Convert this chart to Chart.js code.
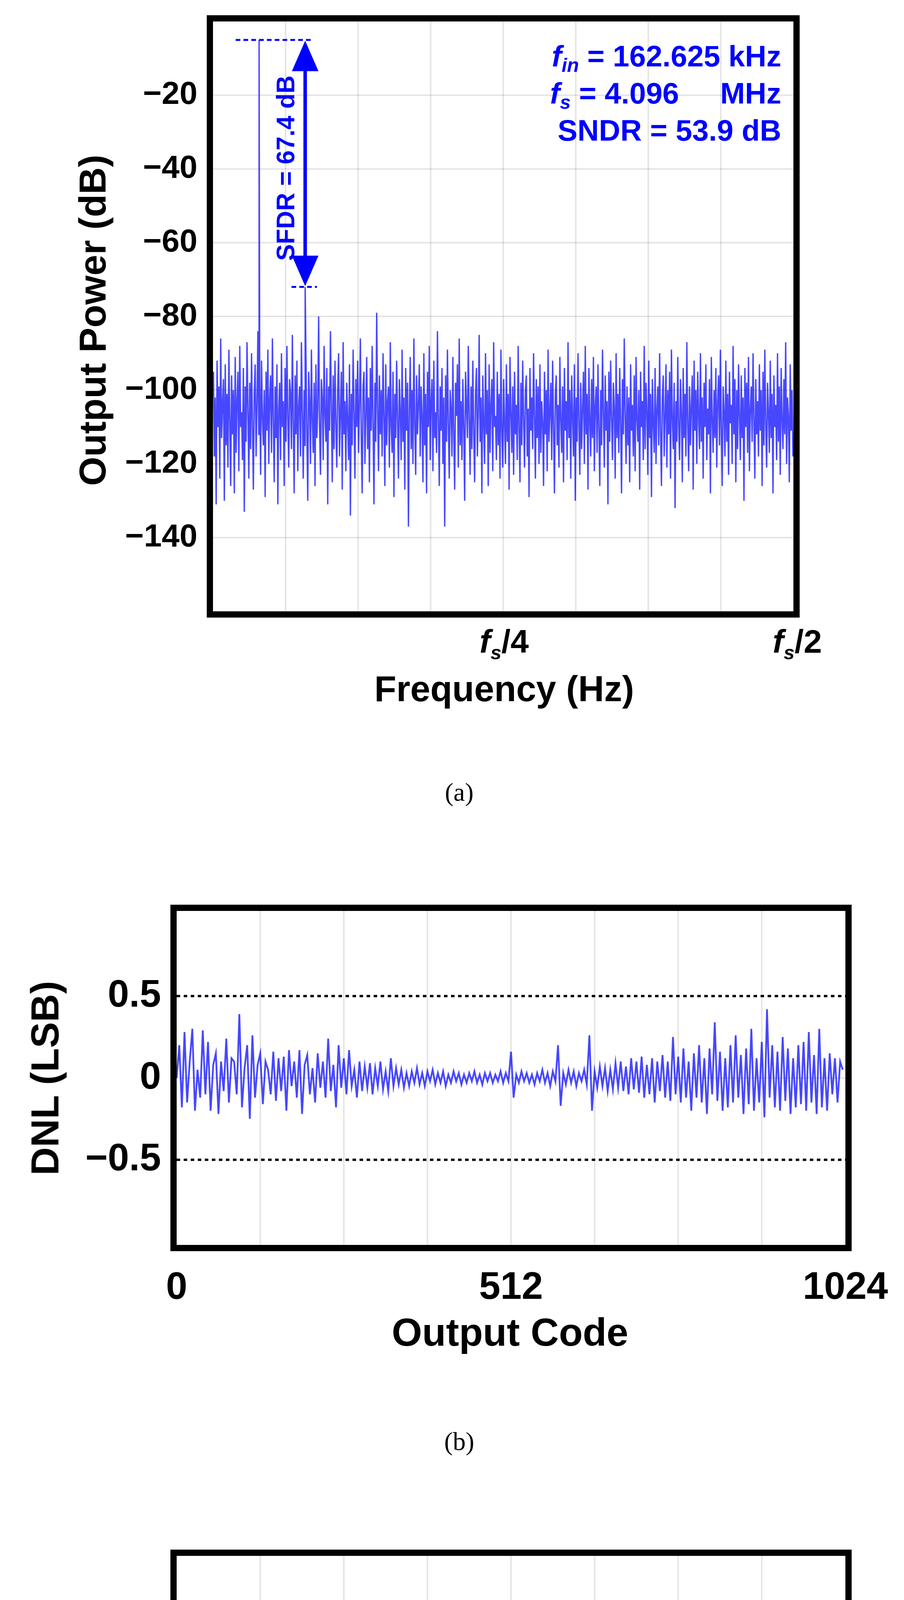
<!DOCTYPE html>
<html>
<head>
<meta charset="utf-8">
<script src="https://cdn.jsdelivr.net/npm/chart.js@4.4.1/dist/chart.umd.min.js"></script>
<style>
  body { margin: 0; background: #fff; width: 2313px; height: 5407px; position: relative; overflow: hidden; }
  canvas { position: absolute; left: 0; }
  .t { position: absolute; font-family: "Liberation Sans", Arial, sans-serif; font-weight: bold; color: #000; white-space: nowrap; }
  .rot { transform: translate(-50%, -50%) rotate(-90deg); }
  .cap { position: absolute; font-family: "Liberation Serif", serif; font-size: 66px; transform: translate(-50%, -50%); }
</style>
</head>
<body>
<div style="position:absolute;left:0;top:0;width:2313px;height:1800px"><canvas id="fft"></canvas></div>
<div style="position:absolute;left:0;top:2262px;width:2313px;height:1150px"><canvas id="dnl"></canvas></div>
<div style="position:absolute;left:0;top:3910px;width:2313px;height:1150px"><canvas id="inl"></canvas></div>

<div class="t rot" style="left:237px;top:820px;font-size:96px">Output Power (dB)</div>
<div class="t" style="left:1290px;top:1647px;font-size:84px;transform:translate(-50%,-50%)"><i>f<sub style="font-size:60%">s</sub></i>/4</div>
<div class="t" style="left:2040px;top:1647px;font-size:84px;transform:translate(-50%,-50%)"><i>f<sub style="font-size:60%">s</sub></i>/2</div>
<div class="t" style="left:1290px;top:1763px;font-size:92px;transform:translate(-50%,-50%)">Frequency (Hz)</div>
<div class="cap" style="left:1175px;top:2028px">(a)</div>

<div class="t rot" style="left:115px;top:2760px;font-size:100px">DNL (LSB)</div>
<div class="t" style="left:1305px;top:3410px;font-size:100px;transform:translate(-50%,-50%)">Output Code</div>
<div class="cap" style="left:1175px;top:3690px">(b)</div>

<div class="t rot" style="left:115px;top:4432px;font-size:100px">INL (LSB)</div>
<div class="t" style="left:1305px;top:5070px;font-size:100px;transform:translate(-50%,-50%)">Output Code</div>
<div class="cap" style="left:1175px;top:5300px">(c)</div>

<script>
// ---- spectrum (a): noise floor bins over 0..fs/2, in dB ----
const noiseDb = [
-95,-118,-102,-131,-92,-110,-99,-124,-86,-113,-104,-97,-130,-93,-115,-101,-121,-89,-108,-126,
-96,-112,-100,-128,-91,-117,-103,-95,-122,-88,-110,-106,-119,-94,-133,-99,-114,-87,-105,-124,
-98,-116,-90,-109,-127,-101,-93,-118,-104,-84,-112,-97,-123,-92,-107,-115,-100,-129,-95,-111,
-89,-120,-102,-96,-117,-86,-108,-125,-99,-113,-93,-131,-105,-98,-119,-90,-110,-103,-126,-94,
-114,-88,-107,-121,-97,-101,-116,-85,-109,-128,-96,-112,-92,-122,-104,-99,-118,-87,-106,-124,
-100,-115,-91,-111,-130,-95,-103,-120,-89,-108,-117,-98,-126,-93,-113,-105,-80,-110,-123,-97,
-102,-119,-88,-107,-114,-94,-131,-99,-111,-84,-104,-125,-96,-116,-92,-109,-121,-100,-90,-118,
-106,-95,-127,-87,-112,-103,-122,-98,-108,-119,-93,-134,-101,-115,-89,-106,-124,-97,-110,-92,
-117,-104,-86,-113,-128,-99,-95,-120,-107,-91,-116,-102,-125,-94,-111,-88,-109,-131,-98,-114,
-79,-105,-122,-96,-112,-100,-118,-90,-107,-126,-93,-115,-103,-99,-121,-87,-110,-117,-95,-129,
-101,-113,-92,-108,-124,-97,-106,-119,-89,-114,-102,-127,-94,-111,-98,-137,-105,-91,-116,-100,
-120,-86,-109,-123,-96,-112,-104,-93,-118,-99,-107,-125,-90,-115,-101,-128,-95,-110,-88,-119,
-103,-97,-122,-92,-113,-106,-117,-84,-108,-126,-99,-111,-94,-120,-102,-137,-96,-114,-89,-109,
-124,-100,-105,-118,-91,-112,-127,-98,-107,-93,-121,-86,-115,-103,-119,-97,-110,-130,-95,-104,
-113,-88,-108,-123,-99,-116,-92,-111,-125,-101,-94,-118,-106,-85,-114,-102,-128,-96,-109,-120,
-90,-112,-100,-126,-93,-117,-104,-97,-122,-87,-110,-107,-119,-95,-115,-101,-124,-89,-111,-121,
-97,-109,-120,-93,-114,-101,-127,-91,-106,-117,-99,-123,-95,-112,-104,-119,-88,-110,-125,-98,
-115,-92,-108,-121,-100,-96,-118,-105,-129,-94,-111,-102,-116,-90,-107,-124,-97,-113,-99,-120,
-93,-117,-103,-109,-126,-95,-112,-100,-122,-89,-114,-106,-98,-119,-92,-110,-128,-101,-96,-115,
-104,-121,-91,-108,-117,-99,-125,-94,-111,-103,-119,-87,-113,-100,-124,-96,-107,-118,-93,-130,
-102,-114,-90,-109,-123,-98,-116,-105,-95,-120,-88,-112,-101,-127,-94,-108,-118,-97,-113,-91,
-122,-104,-99,-117,-93,-110,-126,-100,-115,-89,-106,-121,-96,-111,-103,-131,-95,-114,-92,-108,
-119,-98,-105,-124,-90,-113,-101,-117,-94,-109,-128,-97,-112,-86,-107,-120,-99,-115,-102,-125,
-93,-111,-104,-118,-96,-122,-91,-108,-114,-100,-127,-95,-110,-103,-119,-88,-116,-98,-106,-123,
-92,-113,-101,-129,-97,-109,-117,-94,-120,-105,-99,-115,-90,-111,-126,-102,-96,-118,-107,-93,
-121,-100,-112,-95,-124,-89,-108,-116,-98,-132,-103,-114,-91,-110,-119,-97,-106,-125,-94,-113,
-101,-118,-87,-109,-122,-99,-115,-104,-96,-127,-92,-111,-100,-120,-95,-107,-116,-90,-114,-102,
-124,-98,-110,-93,-119,-105,-112,-97,-128,-91,-108,-117,-100,-113,-94,-121,-103,-96,-115,-89,
-111,-126,-99,-106,-118,-92,-114,-101,-123,-95,-109,-104,-120,-88,-112,-97,-125,-100,-116,-93,
-107,-119,-96,-113,-102,-130,-94,-110,-98,-117,-91,-122,-105,-99,-114,-90,-108,-124,-97,-112,
-103,-118,-93,-111,-100,-126,-95,-115,-89,-109,-121,-98,-106,-117,-92,-113,-101,-128,-96,-110,
-104,-119,-90,-114,-99,-123,-94,-108,-116,-97,-112,-87,-120,-102,-107,-125,-93,-111,-100,-118
];
const fundBin = [0.0397, -5];
const spurBin = [0.0794, -72];
const fftYTicks = [-140, -120, -100, -80, -60, -40, -20];

// ---- DNL (b): one value per 4 codes ----
const dnlLsb = [
0,0.2,-0.18,0.28,-0.15,0.1,0.3,-0.2,0.05,-0.12,0.29,-0.1,0.22,-0.2,0.08,0.15,-0.22,0.1,-0.08,0.24,
-0.15,0.12,0.1,-0.1,0.39,-0.18,0.06,0.2,-0.25,0.26,-0.12,0.08,0.15,-0.16,0.1,0.05,-0.1,0.16,-0.14,0.12,
-0.08,0.13,-0.2,0.17,-0.05,0.1,-0.12,0.17,-0.22,0.08,0.14,-0.1,0.06,-0.15,0.15,-0.06,0.1,-0.12,0.24,-0.08,
0.08,-0.18,0.2,-0.06,0.12,-0.1,0.17,-0.05,0.05,-0.12,0.1,-0.08,0.07,-0.06,0.09,-0.1,0.06,-0.05,0.1,-0.07,
0.04,-0.08,0.12,-0.05,0.06,-0.04,0.05,-0.06,0.03,-0.05,0.04,-0.03,0.06,-0.04,0.03,-0.05,0.04,-0.02,0.05,-0.04,
0.03,-0.03,0.04,-0.05,0.02,-0.03,0.04,-0.02,0.03,-0.04,0.02,-0.03,0.03,-0.02,0.04,-0.03,0.02,-0.04,0.03,-0.02,
0.03,-0.03,0.02,-0.02,0.04,-0.03,0.03,-0.02,0.16,-0.12,0.02,-0.03,0.04,-0.02,0.03,-0.03,0.02,-0.04,0.03,-0.02,
0.05,-0.03,0.03,-0.05,0.04,-0.02,0.2,-0.17,0.03,-0.04,0.05,-0.03,0.04,-0.05,0.03,-0.02,0.05,-0.04,0.26,-0.2,
0.04,-0.06,0.07,-0.05,0.06,-0.08,0.05,-0.07,0.09,-0.06,0.1,-0.08,0.07,-0.1,0.12,-0.07,0.1,-0.09,0.13,-0.12,
0.08,-0.1,0.12,-0.15,0.1,-0.08,0.14,-0.12,0.1,-0.14,0.25,-0.1,0.13,-0.15,0.18,-0.12,0.1,-0.2,0.15,-0.12,
0.2,-0.15,0.12,-0.22,0.18,-0.1,0.34,-0.14,0.16,-0.2,0.12,-0.18,0.2,-0.15,0.26,-0.12,0.14,-0.22,0.18,-0.16,
0.3,-0.2,0.12,-0.15,0.22,-0.24,0.42,-0.12,0.2,-0.18,0.16,-0.2,0.25,-0.14,0.18,-0.22,0.12,-0.18,0.2,-0.16,
0.22,-0.2,0.28,-0.15,0.14,-0.22,0.3,-0.18,0.12,-0.2,0.15,-0.1,0.12,-0.15,0.1,0.05
];

// ---- INL (c): one value per 4 codes ----
const inlLsb = [
0,-0.08,0.18,-0.05,0.25,0.02,-0.12,0.35,0.05,0.15,-0.15,0.1,0.22,-0.05,0.12,0.27,0.02,0.2,0.08,0.25,
-0.02,0.15,-0.12,0.05,0.1,-0.05,0.18,-0.25,0.08,0.2,-0.05,0.1,0.02,0.15,-0.08,0.05,0.12,-0.02,0.18,0.02,
0.08,-0.05,0.12,0.0,0.22,0.05,-0.05,0.15,0.02,-0.1,0.08,0.0,-0.12,0.05,-0.15,0.02,0.1,-0.08,0.05,-0.1,
0.12,-0.05,0.02,-0.1,0.06,-0.08,0.0,-0.04,0.03,-0.06,0.02,-0.03,0.0,-0.05,0.02,-0.04,0.01,-0.06,0.0,-0.02,
-0.05,0.02,-0.03,-0.06,0.01,-0.04,-0.02,-0.08,-0.15,-0.1,-0.12,-0.08,-0.11,-0.06,-0.1,-0.07,-0.12,-0.08,-0.1,-0.06,
-0.09,-0.05,-0.11,-0.07,-0.05,-0.1,-0.04,-0.03,0.0,0.12,-0.02,0.05,0.02,0.08,0.0,0.06,0.02,0.04,-0.02,0.05,
0.0,0.03,-0.25,0.02,0.04,0.05,0.08,0.1,0.06,0.02,0.04,-0.02,0.03,0.0,-0.05,-0.02,-0.32,-0.05,0.02,-0.03,
0.03,-0.05,0.02,-0.08,0.01,-0.04,0.02,-0.06,0.0,-0.05,0.03,-0.02,0.05,-0.15,0.02,-0.04,0.04,-0.02,0.06,-0.08,
0.0,-0.03,0.05,-0.06,0.02,-0.04,0.08,0.02,0.1,0.05,-0.32,0.06,0.08,-0.02,0.05,-0.08,-0.15,-0.05,-0.1,-0.02,
-0.25,-0.08,0.05,-0.12,-0.42,-0.05,0.06,-0.15,0.02,-0.08,0.05,-0.18,0.08,-0.05,0.1,-0.22,0.0,0.12,-0.1,0.05,
-0.05,0.1,-0.12,0.02,0.08,-0.08,0.12,-0.05,0.0,0.05,-0.1,-0.18,-0.42,-0.05,0.1,-0.12,0.05,0.12,-0.08,0.15,
0.02,0.1,-0.05,0.18,0.05,-0.15,0.12,-0.3,0.08,0.25,0.05,0.15,-0.02,0.2,0.1,0.05,0.22,0.0,0.12,0.05,
0.18,-0.02,0.08,0.15,0.02,0.05
];
const linTicks = [-0.5, 0, 0.5];
const codeTicks = [0, 512, 1024];

const BLUE = 'rgba(0,0,255,0.72)';
const TICK_FAMILY = '"Liberation Sans Narrow", "Liberation Sans", Arial, sans-serif';

// grid/frame/tick settings per canvas id (kept out of chart options so nothing is treated as scriptable)
const frameCfg = {
  fft: { xGrid: [1,2,3,4,5,6,7].map(k => k / 16), yGrid: fftYTicks, limits: null, notes: true,
         yTicks: fftYTicks, xTicks: [], size: 82 },
  dnl: { xGrid: [1,2,3,4,5,6,7].map(k => k * 128), yGrid: [0], limits: [-0.5, 0.5], notes: false,
         yTicks: linTicks, xTicks: codeTicks, size: 98 },
  inl: { xGrid: [1,2,3,4,5,6,7].map(k => k * 128), yGrid: [0], limits: [-0.5, 0.5], notes: false,
         yTicks: linTicks, xTicks: codeTicks, size: 98 }
};

const framePlugin = {
  id: 'frame',
  beforeDatasetsDraw(chart) {
    const { ctx, chartArea: a, scales: { x, y } } = chart;
    const o = frameCfg[chart.canvas.id];
    ctx.save();
    ctx.strokeStyle = 'rgba(0,0,0,0.1)';
    ctx.lineWidth = 4;
    o.xGrid.forEach(v => { const px = x.getPixelForValue(v); ctx.beginPath(); ctx.moveTo(px, a.top); ctx.lineTo(px, a.bottom); ctx.stroke(); });
    o.yGrid.forEach(v => { const py = y.getPixelForValue(v); ctx.beginPath(); ctx.moveTo(a.left, py); ctx.lineTo(a.right, py); ctx.stroke(); });
    ctx.restore();
  },
  afterDatasetsDraw(chart) {
    const { ctx, chartArea: a, scales: { x, y } } = chart;
    const o = frameCfg[chart.canvas.id];
    ctx.save();
    if (o.limits) {
      ctx.strokeStyle = '#000'; ctx.lineWidth = 6; ctx.setLineDash([9, 9]);
      o.limits.forEach(v => { const py = y.getPixelForValue(v); ctx.beginPath(); ctx.moveTo(a.left, py); ctx.lineTo(a.right, py); ctx.stroke(); });
      ctx.setLineDash([]);
    }
    if (o.notes) sfdrNotes(chart);
    ctx.strokeStyle = '#000'; ctx.lineWidth = 16;
    ctx.strokeRect(a.left - 8, a.top - 8, a.right - a.left + 16, a.bottom - a.top + 16);
    // tick labels
    ctx.fillStyle = '#000';
    ctx.font = 'bold ' + o.size + 'px ' + TICK_FAMILY;
    ctx.textAlign = 'right'; ctx.textBaseline = 'middle';
    o.yTicks.forEach(v => ctx.fillText(String(v).replace('-', '\u2212'), a.left - 40, y.getPixelForValue(v)));
    ctx.textAlign = 'center'; ctx.textBaseline = 'top';
    o.xTicks.forEach(v => ctx.fillText(String(v), x.getPixelForValue(v), a.bottom + 62));
    ctx.restore();
  }
};

function drawRich(ctx, segs, xRight, yBase) {
  let w = 0;
  segs.forEach(s => { ctx.font = s.f; w += ctx.measureText(s.t).width; });
  let px = xRight - w;
  segs.forEach(s => { ctx.font = s.f; ctx.fillText(s.t, px, yBase + (s.dy || 0)); px += ctx.measureText(s.t).width; });
}

function sfdrNotes(chart) {
  const { ctx, scales: { x, y } } = chart;
  const ax = x.getPixelForValue(spurBin[0]);
  const yTop = y.getPixelForValue(fundBin[1]);
  const yBot = y.getPixelForValue(spurBin[1]);
  ctx.save();
  ctx.strokeStyle = '#0000ff'; ctx.fillStyle = '#0000ff';
  ctx.lineWidth = 5; ctx.setLineDash([12, 8]);
  ctx.beginPath(); ctx.moveTo(x.getPixelForValue(0.0195), yTop); ctx.lineTo(x.getPixelForValue(0.085), yTop); ctx.stroke();
  ctx.beginPath(); ctx.moveTo(ax - 35, yBot); ctx.lineTo(ax + 30, yBot); ctx.stroke();
  ctx.setLineDash([]);
  ctx.lineWidth = 9;
  ctx.beginPath(); ctx.moveTo(ax, yTop + 60); ctx.lineTo(ax, yBot - 60); ctx.stroke();
  ctx.beginPath(); ctx.moveTo(ax, yTop + 2); ctx.lineTo(ax - 34, yTop + 80); ctx.lineTo(ax + 34, yTop + 80); ctx.closePath(); ctx.fill();
  ctx.beginPath(); ctx.moveTo(ax, yBot - 2); ctx.lineTo(ax - 34, yBot - 80); ctx.lineTo(ax + 34, yBot - 80); ctx.closePath(); ctx.fill();
  ctx.save();
  ctx.translate(ax - 28, (yTop + yBot) / 2 + 12);
  ctx.rotate(-Math.PI / 2);
  ctx.font = 'bold 64px "Liberation Sans", Arial, sans-serif';
  ctx.textAlign = 'center';
  ctx.fillText('SFDR = 67.4 dB', 0, 0);
  ctx.restore();
  const B = 'bold 76px ' + TICK_FAMILY;
  const I = 'italic bold 76px ' + TICK_FAMILY;
  const S = 'italic bold 50px ' + TICK_FAMILY;
  ctx.textAlign = 'left';
  drawRich(ctx, [{ t: 'f', f: I }, { t: 'in', f: S, dy: 14 }, { t: ' = 162.625 kHz', f: B }], 1999, 170);
  drawRich(ctx, [{ t: 'f', f: I }, { t: 's', f: S, dy: 14 }, { t: ' = 4.096     MHz', f: B }], 1999, 265);
  drawRich(ctx, [{ t: 'SNDR = 53.9 dB', f: B }], 1999, 360);
  ctx.restore();
}

// spectrum points: noise bins plus the fundamental and the 2nd-harmonic spur
const fftPts = noiseDb.map((v, i) => ({ x: (i + 0.5) * 0.5 / noiseDb.length, y: v }));
fftPts.push({ x: fundBin[0], y: fundBin[1] }, { x: spurBin[0], y: spurBin[1] });
fftPts.sort((p, q) => p.x - q.x);

const hidden = { grid: { display: false }, border: { display: false }, ticks: { display: false } };

new Chart(document.getElementById('fft'), {
  type: 'scatter',
  data: { datasets: [{ data: fftPts, showLine: true, borderColor: BLUE, borderWidth: 3.5, pointRadius: 0 }] },
  options: {
    responsive: true, maintainAspectRatio: false, animation: false,
    layout: { padding: { left: 545, right: 283, top: 55, bottom: 235 } },
    plugins: { legend: { display: false }, tooltip: { enabled: false } },
    scales: {
      x: { min: 0, max: 0.5, ...hidden, afterFit: s => { s.height = 0; } },
      y: { min: -160, max: 0, ...hidden, afterFit: s => { s.width = 0; } }
    }
  },
  plugins: [framePlugin]
});

function codeChart(id, values, top, bottom) {
  const pts = values.map((v, i) => ({ x: i * 4, y: v }));
  new Chart(document.getElementById(id), {
    type: 'scatter',
    data: { datasets: [{ data: pts, showLine: true, borderColor: BLUE, borderWidth: 4.5, pointRadius: 0 }] },
    options: {
      responsive: true, maintainAspectRatio: false, animation: false,
      layout: { padding: { left: 452, right: 150, top: top, bottom: 1150 - bottom } },
      plugins: { legend: { display: false }, tooltip: { enabled: false } },
      scales: {
        x: { min: 0, max: 1024, ...hidden, afterFit: s => { s.height = 0; } },
        y: { min: -1.02, max: 1.02, ...hidden, afterFit: s => { s.width = 0; } }
      }
    },
    plugins: [framePlugin]
  });
}
codeChart('dnl', dnlLsb, 70, 925);
codeChart('inl', inlLsb, 73, 950);
</script>
</body>
</html>
